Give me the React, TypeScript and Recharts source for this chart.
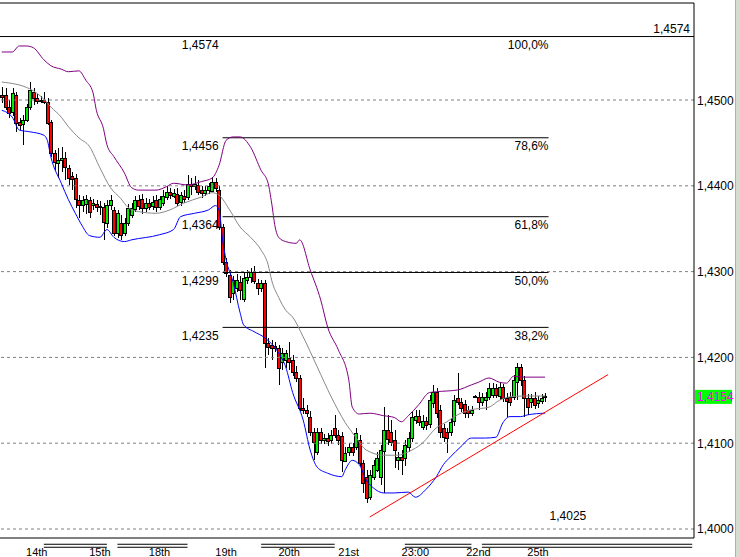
import React from 'react';
import { ComposedChart, Bar, Line, XAxis, YAxis, ReferenceLine } from 'recharts';

// candles, left to right
const opens = [
  1.4506, 1.4506, 1.4492, 1.4486, 1.4506, 1.4474, 1.4472, 1.4477, 1.4492, 1.4509,
  1.4502, 1.4500, 1.4500, 1.4498, 1.4474, 1.4438, 1.4427, 1.4430, 1.4432, 1.4421,
  1.4411, 1.4409, 1.4384, 1.4378, 1.4379, 1.4384, 1.4378, 1.4379, 1.4375, 1.4375,
  1.4357, 1.4378, 1.4372, 1.4345, 1.4357, 1.4345, 1.4357, 1.4366, 1.4374, 1.4384,
  1.4385, 1.4374, 1.4380, 1.4376, 1.4384, 1.4376, 1.4380, 1.4387, 1.4393, 1.4389,
  1.4391, 1.4381, 1.4388, 1.4387, 1.4402, 1.4400, 1.4401, 1.4395, 1.4392, 1.4395,
  1.4395, 1.4405, 1.4395, 1.4352, 1.4311, 1.4296, 1.4275, 1.4281, 1.4288, 1.4269,
  1.4290, 1.4294, 1.4300, 1.4287, 1.4281, 1.4287, 1.4217, 1.4215, 1.4213, 1.4211,
  1.4194, 1.4197, 1.4199, 1.4197, 1.4183, 1.4176, 1.4141, 1.4139, 1.4131, 1.4113,
  1.4090, 1.4113, 1.4104, 1.4106, 1.4104, 1.4118, 1.4110, 1.4108, 1.4080, 1.4090,
  1.4096, 1.4096, 1.4104, 1.4077, 1.4061, 1.4037, 1.4061, 1.4069, 1.4060, 1.4090,
  1.4115, 1.4113, 1.4104, 1.4080, 1.4084, 1.4083, 1.4096, 1.4106, 1.4127, 1.4132,
  1.4119, 1.4126, 1.4122, 1.4147, 1.4160, 1.4139, 1.4118, 1.4113, 1.4113, 1.4125,
  1.4153, 1.4148, 1.4146, 1.4139, 1.4136, 1.4155, 1.4154, 1.4148, 1.4150, 1.4154,
  1.4156, 1.4164, 1.4156, 1.4166, 1.4153, 1.4154, 1.4154, 1.4171, 1.4189, 1.4174,
  1.4153, 1.4148, 1.4153, 1.4147, 1.4150, 1.4155,
];
const highs = [
  1.4515, 1.4514, 1.4500, 1.4514, 1.4509, 1.4479, 1.4483, 1.4495, 1.4521, 1.4514,
  1.4507, 1.4505, 1.4509, 1.4502, 1.4477, 1.4442, 1.4444, 1.4445, 1.4439, 1.4424,
  1.4416, 1.4414, 1.4389, 1.4388, 1.4389, 1.4387, 1.4385, 1.4384, 1.4382, 1.4380,
  1.4384, 1.4389, 1.4375, 1.4372, 1.4366, 1.4363, 1.4379, 1.4380, 1.4388, 1.4389,
  1.4391, 1.4386, 1.4385, 1.4388, 1.4389, 1.4388, 1.4395, 1.4400, 1.4398, 1.4396,
  1.4398, 1.4393, 1.4395, 1.4413, 1.4409, 1.4411, 1.4407, 1.4400, 1.4400, 1.4403,
  1.4410, 1.4409, 1.4400, 1.4356, 1.4316, 1.4302, 1.4295, 1.4297, 1.4295, 1.4300,
  1.4302, 1.4304, 1.4307, 1.4291, 1.4290, 1.4290, 1.4223, 1.4220, 1.4218, 1.4215,
  1.4211, 1.4209, 1.4218, 1.4203, 1.4190, 1.4180, 1.4153, 1.4145, 1.4137, 1.4118,
  1.4118, 1.4118, 1.4111, 1.4112, 1.4115, 1.4133, 1.4115, 1.4113, 1.4095, 1.4100,
  1.4100, 1.4118, 1.4110, 1.4080, 1.4069, 1.4069, 1.4080, 1.4090, 1.4098, 1.4142,
  1.4133, 1.4127, 1.4115, 1.4090, 1.4092, 1.4104, 1.4113, 1.4137, 1.4139, 1.4139,
  1.4133, 1.4131, 1.4156, 1.4168, 1.4164, 1.4145, 1.4122, 1.4118, 1.4129, 1.4156,
  1.4182, 1.4153, 1.4150, 1.4143, 1.4143, 1.4156, 1.4160, 1.4159, 1.4160, 1.4170,
  1.4170, 1.4169, 1.4171, 1.4169, 1.4159, 1.4160, 1.4180, 1.4194, 1.4192, 1.4178,
  1.4157, 1.4157, 1.4160, 1.4155, 1.4157, 1.4159,
];
const lows = [
  1.4497, 1.4488, 1.4479, 1.4481, 1.4463, 1.4465, 1.4448, 1.4474, 1.4488, 1.4494,
  1.4495, 1.4496, 1.4495, 1.4471, 1.4434, 1.4418, 1.4409, 1.4416, 1.4407, 1.4401,
  1.4395, 1.4374, 1.4363, 1.4370, 1.4367, 1.4363, 1.4372, 1.4370, 1.4366, 1.4337,
  1.4351, 1.4372, 1.4342, 1.4339, 1.4337, 1.4342, 1.4353, 1.4363, 1.4370, 1.4372,
  1.4367, 1.4370, 1.4372, 1.4372, 1.4370, 1.4372, 1.4377, 1.4384, 1.4385, 1.4386,
  1.4377, 1.4377, 1.4380, 1.4384, 1.4389, 1.4395, 1.4389, 1.4386, 1.4388, 1.4391,
  1.4393, 1.4393, 1.4348, 1.4308, 1.4294, 1.4264, 1.4267, 1.4276, 1.4267, 1.4265,
  1.4285, 1.4287, 1.4285, 1.4273, 1.4276, 1.4188, 1.4203, 1.4197, 1.4206, 1.4168,
  1.4185, 1.4188, 1.4185, 1.4178, 1.4171, 1.4137, 1.4134, 1.4130, 1.4108, 1.4080,
  1.4086, 1.4099, 1.4099, 1.4097, 1.4099, 1.4106, 1.4098, 1.4067, 1.4078, 1.4085,
  1.4085, 1.4092, 1.4074, 1.4042, 1.4030, 1.4034, 1.4057, 1.4067, 1.4051, 1.4042,
  1.4098, 1.4097, 1.4071, 1.4069, 1.4063, 1.4074, 1.4090, 1.4101, 1.4122, 1.4120,
  1.4115, 1.4115, 1.4118, 1.4141, 1.4129, 1.4106, 1.4101, 1.4089, 1.4108, 1.4120,
  1.4145, 1.4136, 1.4129, 1.4129, 1.4132, 1.4154, 1.4139, 1.4143, 1.4139, 1.4150,
  1.4153, 1.4153, 1.4150, 1.4148, 1.4131, 1.4143, 1.4150, 1.4150, 1.4167, 1.4131,
  1.4133, 1.4141, 1.4140, 1.4141, 1.4146, 1.4148,
];
const closes = [
  1.4504, 1.4492, 1.4485, 1.4508, 1.4473, 1.4471, 1.4477, 1.4492, 1.4512, 1.4502,
  1.4499, 1.4499, 1.4498, 1.4474, 1.4438, 1.4427, 1.4430, 1.4432, 1.4421, 1.4409,
  1.4407, 1.4384, 1.4378, 1.4384, 1.4385, 1.4370, 1.4380, 1.4375, 1.4376, 1.4357,
  1.4378, 1.4384, 1.4345, 1.4368, 1.4343, 1.4357, 1.4374, 1.4374, 1.4384, 1.4377,
  1.4374, 1.4380, 1.4375, 1.4381, 1.4376, 1.4385, 1.4388, 1.4393, 1.4389, 1.4392,
  1.4381, 1.4389, 1.4384, 1.4402, 1.4400, 1.4402, 1.4393, 1.4391, 1.4395, 1.4400,
  1.4405, 1.4398, 1.4352, 1.4311, 1.4298, 1.4270, 1.4290, 1.4290, 1.4279, 1.4293,
  1.4294, 1.4300, 1.4290, 1.4281, 1.4287, 1.4217, 1.4212, 1.4211, 1.4211, 1.4188,
  1.4205, 1.4205, 1.4194, 1.4183, 1.4176, 1.4141, 1.4139, 1.4135, 1.4113, 1.4101,
  1.4113, 1.4104, 1.4106, 1.4103, 1.4110, 1.4110, 1.4104, 1.4080, 1.4089, 1.4096,
  1.4090, 1.4112, 1.4077, 1.4054, 1.4037, 1.4063, 1.4075, 1.4083, 1.4092, 1.4115,
  1.4104, 1.4101, 1.4092, 1.4084, 1.4080, 1.4098, 1.4106, 1.4131, 1.4132, 1.4125,
  1.4126, 1.4121, 1.4150, 1.4160, 1.4136, 1.4113, 1.4107, 1.4106, 1.4125, 1.4150,
  1.4148, 1.4141, 1.4136, 1.4135, 1.4139, 1.4155, 1.4148, 1.4154, 1.4154, 1.4164,
  1.4164, 1.4156, 1.4166, 1.4153, 1.4150, 1.4148, 1.4174, 1.4189, 1.4174, 1.4153,
  1.4142, 1.4153, 1.4145, 1.4150, 1.4153, 1.4154,
];

// bollinger bands, [candle index, price] read at the visible bends
const upperBand: [number, number][] = [
  [0, 1.4556], [3, 1.4556], [5, 1.4563], [7, 1.4563], [9, 1.4561], [12, 1.4547], [14, 1.4540],
  [17, 1.4536], [19, 1.4533], [22, 1.4534], [24, 1.4523], [26, 1.4509], [27, 1.4488],
  [29, 1.4467], [30, 1.4448], [32, 1.4434], [35, 1.4415], [37, 1.4398], [39, 1.4395],
  [44, 1.4395], [47, 1.4399], [49, 1.4403], [53, 1.4401], [57, 1.4405], [60, 1.4409],
  [62, 1.4424], [64, 1.4453], [66, 1.4457], [68, 1.4457], [71, 1.4445], [74, 1.4418],
  [76, 1.4403], [77, 1.4380], [78, 1.4352], [79, 1.4340], [81, 1.4335], [84, 1.4333],
  [85, 1.4337], [88, 1.4302], [91, 1.4267], [93, 1.4235], [96, 1.4209], [99, 1.4174],
  [100, 1.4142], [102, 1.4134], [105, 1.4135], [109, 1.4132], [112, 1.4130], [114, 1.4125],
  [116, 1.4132], [119, 1.4145], [122, 1.4159], [124, 1.4160], [130, 1.4162], [134, 1.4168],
  [136, 1.4171], [139, 1.4176], [142, 1.4171], [144, 1.4170], [146, 1.4178], [149, 1.4177],
  [155, 1.4177],
];
const middleBand: [number, number][] = [
  [0, 1.4521], [8, 1.4513], [12, 1.4501], [14, 1.4492], [17, 1.4480], [19, 1.4469],
  [22, 1.4456], [25, 1.4446], [28, 1.4421], [31, 1.4398], [34, 1.4385], [36, 1.4375],
  [39, 1.4370], [44, 1.4368], [48, 1.4372], [52, 1.4380], [57, 1.4387], [60, 1.4392],
  [62, 1.4389], [65, 1.4372], [68, 1.4352], [71, 1.4340], [74, 1.4325], [76, 1.4308],
  [77, 1.4290], [79, 1.4270], [81, 1.4255], [83, 1.4247], [86, 1.4224], [90, 1.4189],
  [94, 1.4154], [98, 1.4124], [101, 1.4107], [104, 1.4092], [109, 1.4086], [113, 1.4086],
  [116, 1.4090], [120, 1.4100], [124, 1.4118], [127, 1.4125], [130, 1.4133], [134, 1.4139],
  [139, 1.4142], [142, 1.4150], [145, 1.4154], [149, 1.4155], [155, 1.4155],
];
const lowerBand: [number, number][] = [
  [0, 1.4488], [3, 1.4480], [5, 1.4465], [8, 1.4463], [12, 1.4459], [13, 1.4453],
  [14, 1.4434], [17, 1.4403], [19, 1.4384], [21, 1.4368], [23, 1.4353], [25, 1.4342],
  [28, 1.4340], [30, 1.4349], [32, 1.4340], [35, 1.4335], [37, 1.4337], [45, 1.4343],
  [49, 1.4349], [51, 1.4364], [55, 1.4368], [59, 1.4372], [61, 1.4377], [62, 1.4372],
  [63, 1.4337], [64, 1.4314], [66, 1.4288], [68, 1.4252], [69, 1.4238], [72, 1.4230],
  [75, 1.4223], [79, 1.4205], [81, 1.4189], [83, 1.4159], [86, 1.4127], [88, 1.4092],
  [90, 1.4072], [93, 1.4065], [97, 1.4061], [98, 1.4069], [100, 1.4080], [102, 1.4075],
  [104, 1.4057], [106, 1.4048], [109, 1.4042], [112, 1.4042], [116, 1.4043], [118, 1.4037],
  [121, 1.4046], [124, 1.4061], [126, 1.4075], [128, 1.4084], [131, 1.4096], [134, 1.4106],
  [138, 1.4106], [141, 1.4107], [143, 1.4124], [145, 1.4131], [148, 1.4131], [150, 1.4133],
  [155, 1.4135],
];

const priceTicks = [1.40, 1.41, 1.42, 1.43, 1.44, 1.45];
const lastPrice = 1.4154;

// fibonacci retracement
const fibPrices = [1.4574, 1.4456, 1.4364, 1.4299, 1.4235];
const fibPercents = ['100,0%', '78,6%', '61,8%', '50,0%', '38,2%'];
const fibLow = 1.4025;
const fibFrom = 63;
const fibTo = 156;

// trend line under the lows
const trendIdx = [105, 173];
const trendPrice = [1.4014, 1.4180];

const xTickIdx = [10, 28, 45, 64, 82, 99, 118, 136, 153];
const xTickText = ['14th', '15th', '18th', '19th', '20th', '21st', '23:00', '22nd', '25th'];
const sessionBars: [number, number][] = [[12, 30], [33, 53], [74, 95], [115, 134], [137, 197]];

const SLOTS = 198;
const Y_MIN = 1.39895;
const Y_MAX = 1.46131;
const FONT = '"Liberation Sans", Arial, sans-serif';

const fmt = (v: number) => v.toFixed(4).replace('.', ',');

const data = Array.from({ length: SLOTS }, (_, i) => ({
  i,
  range: i < opens.length ? [lows[i], highs[i]] : null,
  o: opens[i] ?? null,
  h: highs[i] ?? null,
  l: lows[i] ?? null,
  c: closes[i] ?? null,
  up: null as number | null,
  mid: null as number | null,
  lo: null as number | null,
}));
upperBand.forEach(([i, v]) => { data[i].up = v; });
middleBand.forEach(([i, v]) => { data[i].mid = v; });
lowerBand.forEach(([i, v]) => { data[i].lo = v; });

const Candle = (props: any) => {
  const { x, y, width, height } = props;
  const p = props.payload ?? props;
  if (p == null || p.o == null) return null;
  const top = Math.min(y, y + height);
  const bottom = Math.max(y, y + height);
  const span = p.h - p.l;
  const toPx = (v: number) => (span === 0 ? top : top + ((p.h - v) / span) * (bottom - top));
  const cx = Math.round(x + width / 2);
  const yo = toPx(p.o);
  const yc = toPx(p.c);
  const bTop = Math.round(Math.min(yo, yc)) + 0.5;
  const bH = Math.max(1, Math.round(Math.abs(yc - yo)));
  const rising = p.c >= p.o;
  return (
    <g>
      <line x1={cx + 0.5} x2={cx + 0.5} y1={Math.round(top)} y2={Math.round(bottom)} stroke="#000" />
      <rect x={cx - 1.5} y={bTop} width={3} height={bH} fill={rising ? '#00ee00' : '#ff0000'} stroke="#000" />
    </g>
  );
};

const PriceTick = ({ x, y, payload }: any) => {
  const v = payload.value;
  if (v === lastPrice) {
    return (
      <g>
        <rect x={x - 2} y={y - 7} width={37} height={14} fill="#00ff00" />
        <text x={x} y={y + 4.5} fill="#ff00ff" fontSize={12} fontFamily={FONT}>{fmt(v)}</text>
      </g>
    );
  }
  return <text x={x} y={y + 4.5} fill="#000" fontSize={12} fontFamily={FONT}>{fmt(v)}</text>;
};

const TimeTick = ({ x, y, payload }: any) => {
  const k = xTickIdx.indexOf(payload.value);
  return (
    <text x={x} y={y + 18} fill="#000" fontSize={11} fontFamily={FONT} textAnchor="middle">
      {k >= 0 ? xTickText[k] : ''}
    </text>
  );
};

const fibLabel = (price: number, pct: string) => (props: any) => {
  const vb = props.viewBox;
  return (
    <g fontSize={12} fontFamily={FONT} fill="#000">
      <text x={vb.x - 4} y={vb.y + 12.5} textAnchor="end">{fmt(price)}</text>
      <text x={vb.x + vb.width} y={vb.y + 12.5} textAnchor="end">{pct}</text>
    </g>
  );
};

export default function App() {
  return (
    <div style={{ position: 'absolute', left: 0, top: 0, width: 740, height: 557, background: '#fff' }}>
      <ComposedChart
        width={740}
        height={557}
        data={data}
        margin={{ top: 3, right: 0, bottom: 0, left: 0 }}
        barCategoryGap={0}
        barGap={0}
      >
        <XAxis
          dataKey="i"
          type="category"
          ticks={xTickIdx}
          interval={0}
          height={19}
          tickLine={false}
          tickSize={0}
          tickMargin={0}
          axisLine={{ stroke: '#000' }}
          tick={<TimeTick />}
        />
        <YAxis
          orientation="right"
          type="number"
          domain={[Y_MIN, Y_MAX]}
          allowDataOverflow
          ticks={[...priceTicks, lastPrice]}
          interval={0}
          width={46}
          tickLine={false}
          tickSize={0}
          tickMargin={3}
          axisLine={{ stroke: '#000' }}
          tick={<PriceTick />}
        />

        {priceTicks.map((t) => (
          <ReferenceLine key={t} y={t} stroke="#808080" strokeDasharray="3 3" />
        ))}
        <ReferenceLine y={Y_MAX} stroke="#000" />

        {/* 100% line runs across the whole chart */}
        <ReferenceLine
          y={fibPrices[0]}
          stroke="#000"
          label={(p: any) => (
            <text x={p.viewBox.x + p.viewBox.width - 4} y={p.viewBox.y - 4} textAnchor="end" fontSize={12} fontFamily={FONT} fill="#000">
              {fmt(fibPrices[0])}
            </text>
          )}
        />
        {fibPrices.map((f, k) => (
          <ReferenceLine
            key={'fib' + k}
            segment={[{ x: fibFrom, y: f }, { x: fibTo, y: f }]}
            stroke={k === 0 ? 'none' : '#000'}
            label={fibLabel(f, fibPercents[k])}
          />
        ))}
        <ReferenceLine
          segment={[{ x: fibFrom, y: fibLow }, { x: fibTo, y: fibLow }]}
          stroke="none"
          label={(p: any) => (
            <text x={p.viewBox.x + p.viewBox.width + 1} y={p.viewBox.y + 12.5} fontSize={12} fontFamily={FONT} fill="#000">
              {fmt(fibLow)}
            </text>
          )}
        />

        <Bar dataKey="range" shape={(p: any) => <Candle {...p} />} isAnimationActive={false} />

        <Line dataKey="up" type="monotone" stroke="#800080" strokeWidth={1} dot={false} connectNulls isAnimationActive={false} />
        <Line dataKey="mid" type="monotone" stroke="#888888" strokeWidth={1} dot={false} connectNulls isAnimationActive={false} />
        <Line dataKey="lo" type="monotone" stroke="#0000ff" strokeWidth={1} dot={false} connectNulls isAnimationActive={false} />

        <ReferenceLine
          segment={[{ x: trendIdx[0], y: trendPrice[0] }, { x: trendIdx[1], y: trendPrice[1] }]}
          stroke="#ff0000"
          ifOverflow="visible"
        />

        {/* session double rules under the time axis */}
        {sessionBars.map(([a, b], k) => (
          <ReferenceLine key={'s1' + k} segment={[{ x: a, y: 1.39822 }, { x: b, y: 1.39822 }]} stroke="#000" ifOverflow="visible" />
        ))}
        {sessionBars.map(([a, b], k) => (
          <ReferenceLine key={'s2' + k} segment={[{ x: a, y: 1.39787 }, { x: b, y: 1.39787 }]} stroke="#000" ifOverflow="visible" />
        ))}
      </ComposedChart>
      <div style={{ position: 'absolute', left: 735, top: 0, width: 5, height: 557, background: '#d6dccf', borderLeft: '1px solid #a8b8a0' }} />
    </div>
  );
}
